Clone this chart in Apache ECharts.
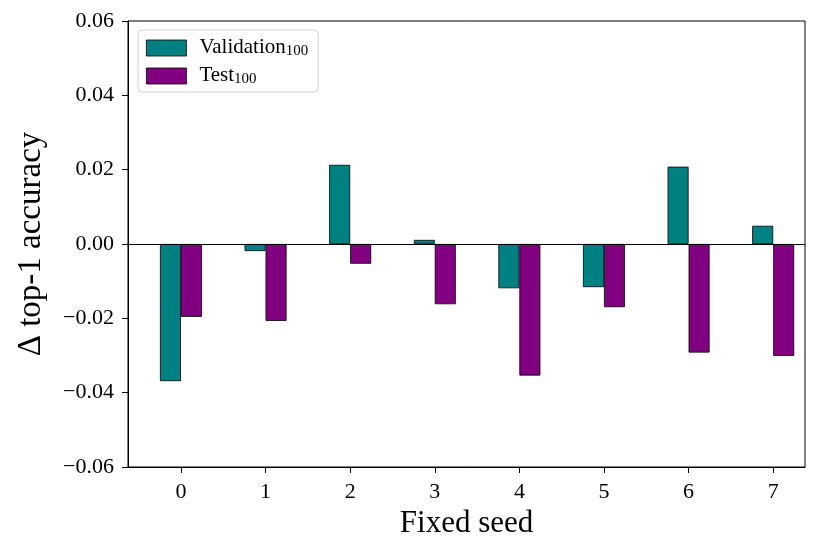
<!DOCTYPE html>
<html>
<head>
<meta charset="utf-8">
<script src="https://cdn.jsdelivr.net/npm/echarts@6/dist/echarts.min.js"></script>
<style>html,body{margin:0;padding:0;background:#fff;}#c{width:820px;height:538px;}</style>
</head>
<body>
<div id="c"></div>
<script>
const categories = ['0', '1', '2', '3', '4', '5', '6', '7'];
const validation = [-0.0369, -0.0019, 0.0213, 0.0011, -0.0119, -0.0116, 0.0208, 0.0049];
const test = [-0.0196, -0.0207, -0.0053, -0.0162, -0.0354, -0.0170, -0.0292, -0.0301];
const yTicks = { min: -0.06, max: 0.06, interval: 0.02 };
const xRange = { min: -0.626, max: 7.376 };

const positions = categories.map((c, i) => i);
const FONT = '"Liberation Serif", serif';
const chart = echarts.init(document.getElementById('c'), null, { renderer: 'canvas' });
chart.setOption({
  animation: false,
  backgroundColor: '#fff',
  textStyle: { fontFamily: FONT, color: '#000' },
  grid: { left: 128, right: 15, top: 21, bottom: 71, containLabel: false, outerBoundsMode: 'none',
          show: true, borderColor: '#000', borderWidth: 1, backgroundColor: 'transparent' },
  legend: {
    left: 138, top: 30, orient: 'vertical',
    backgroundColor: '#fff', borderColor: '#d0d0d0', borderWidth: 1, borderRadius: 4,
    padding: [6, 10, 5, 8], itemGap: 5, itemWidth: 40, itemHeight: 16,
    itemStyle: { borderColor: '#000', borderWidth: 0.8 },
    icon: 'rect',
    formatter: function (name) {
      const parts = name.split('_');
      return '{a|' + parts[0] + '}{s|' + parts[1] + '}';
    },
    textStyle: {
      fontFamily: FONT, color: '#000', padding: [0, 0, 0, 8],
      rich: {
        a: { fontFamily: FONT, fontSize: 21, lineHeight: 22, verticalAlign: 'top' },
        s: { fontFamily: FONT, fontSize: 15, lineHeight: 15, verticalAlign: 'bottom', padding: [8, 0, 0, 0] }
      }
    },
    data: ['Validation_100', 'Test_100']
  },
  xAxis: {
    type: 'value', min: xRange.min, max: xRange.max,
    name: 'Fixed seed', nameLocation: 'middle', nameGap: 40,
    nameTextStyle: { fontFamily: FONT, fontSize: 31, color: '#000' },
    axisLine: { show: true, onZero: false, lineStyle: { color: '#000', width: 1 } },
    axisTick: { show: true, customValues: positions, length: 6, inside: false, lineStyle: { color: '#000' } },
    axisLabel: { fontFamily: FONT, fontSize: 22, color: '#000', margin: 14, customValues: positions,
      formatter: function (v) { return categories[Math.round(v)]; } },
    splitLine: { show: false }
  },
  yAxis: {
    type: 'value', min: yTicks.min, max: yTicks.max, interval: yTicks.interval,
    name: '\u0394 top-1 accuracy', nameLocation: 'middle', nameGap: 80, nameRotate: 90,
    nameTextStyle: { fontFamily: FONT, fontSize: 33, color: '#000' },
    axisLine: { show: true, onZero: false, lineStyle: { color: '#000', width: 1 } },
    axisTick: { show: true, length: 6, inside: false, lineStyle: { color: '#000' } },
    axisLabel: {
      fontFamily: FONT, fontSize: 22, color: '#000', margin: 14,
      formatter: function (v) { const s = Math.abs(v).toFixed(2); return (v < -1e-9 ? '\u2212' : '') + s; }
    },
    splitLine: { show: false }
  },
  series: [
    {
      name: 'Validation_100', type: 'bar', data: validation.map((v, i) => [positions[i], v]),
      barWidth: 21, barGap: '0%',
      itemStyle: { color: '#008080', borderColor: '#000', borderWidth: 0.8 },
      markLine: {
        silent: true, symbol: 'none', label: { show: false },
        lineStyle: { color: '#000', width: 1.2, type: 'solid' },
        data: [{ yAxis: 0 }]
      }
    },
    {
      name: 'Test_100', type: 'bar', data: test.map((v, i) => [positions[i], v]),
      barWidth: 21, barGap: '0%',
      itemStyle: { color: '#800080', borderColor: '#000', borderWidth: 0.8 }
    }
  ]
});
</script>
</body>
</html>
